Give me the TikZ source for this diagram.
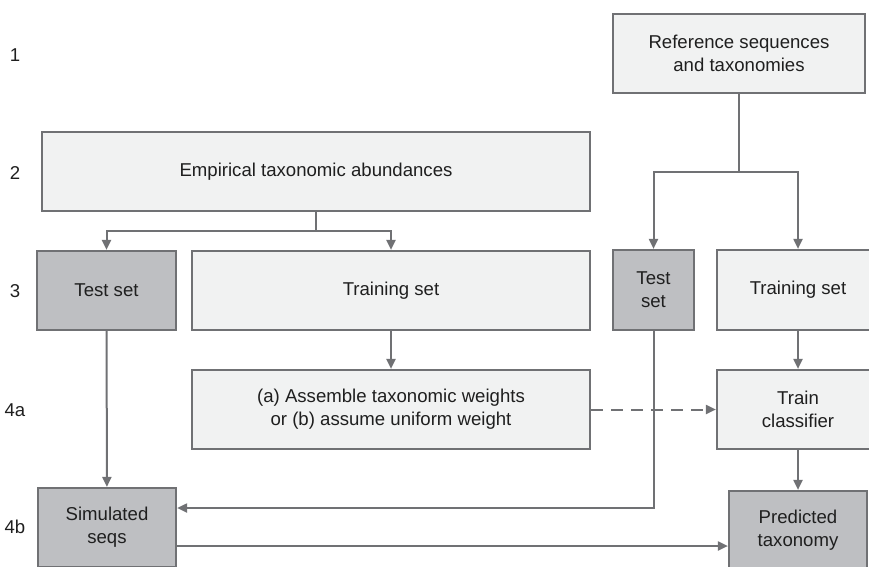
\documentclass[tikz,border=0pt]{standalone}
\usepackage{fontspec}
\setmainfont{Liberation Sans}
\usetikzlibrary{arrows.meta,calc}
\definecolor{edgegray}{RGB}{112,113,116}
\definecolor{lightfill}{RGB}{241,242,242}
\definecolor{darkfill}{RGB}{190,191,194}
\begin{document}
\begin{tikzpicture}[x=1pt,y=-1pt,
  every node/.style={font=\fontsize{18.6}{23}\selectfont, text=black!88},
  box/.style={draw=edgegray, line width=2.2pt, align=center, inner sep=0pt},
  lightbox/.style={box, fill=lightfill},
  darkbox/.style={box, fill=darkfill},
  conn/.style={draw=edgegray, line width=2pt},
  arr/.style={conn, -{Triangle[length=10pt,width=9pt]}},
  dashline/.style={dash pattern=on 12pt off 8pt}
]
\useasboundingbox (0,0) rectangle (869,566);
\clip (0,0) rectangle (869,566);

% row labels
\node (l1) at (15,55) {1};
\node (l2) at (15,173) {2};
\node (l3) at (15,291) {3};
\node (l4a) at (15,410) {4a};
\node (l4b) at (15,527) {4b};

% boxes
\node[lightbox, minimum width=252pt, minimum height=79pt] (ref) at (739,53.5) {Reference sequences\\and taxonomies};
\node[lightbox, minimum width=548pt, minimum height=79pt] (emp) at (316,171.5) {Empirical taxonomic abundances};
\node[darkbox, minimum width=139pt, minimum height=79pt] (testL) at (106.5,290.5) {Test set};
\node[lightbox, minimum width=398pt, minimum height=79pt] (trainL) at (391,290.5) {Training set};
\node[darkbox, minimum width=81pt, minimum height=80pt] (testR) at (653.5,290) {Test\\set};
\node[lightbox, minimum width=162pt, minimum height=80pt] (trainR) at (798,290) {Training set};
\node[lightbox, minimum width=398pt, minimum height=79pt] (assem) at (391,409.5) {(a) Assemble taxonomic weights\\or (b) assume uniform weight};
\node[lightbox, minimum width=162pt, minimum height=79pt] (trainc) at (798,409.5) {Train\\classifier};
\node[darkbox, minimum width=138pt, minimum height=79pt] (sim) at (107,527.5) {Simulated\\seqs};
\node[darkbox, minimum width=138pt, minimum height=79pt] (pred) at (798,530.5) {Predicted\\taxonomy};

% connectors
\coordinate (rj) at (739,172);
\coordinate (ej) at (316,231);
\draw[conn] (ref.south) -- (rj);
\draw[arr] (rj) -| (testR.north);
\draw[arr] (rj) -| (trainR.north);
\draw[conn] (emp.south) -- (ej);
\draw[arr] (ej) -| (testL.north);
\draw[arr] (ej) -| (trainL.north);

\draw[arr] (trainL) -- (assem);
\draw[arr] (trainR) -- (trainc);
\draw[arr] (trainc) -- (pred);
\draw[arr] (testL) -- (sim);
\draw[arr, dashline] (assem.east) -- (trainc.west);

\coordinate (s1) at ($(sim.east)+(0,-19.5)$);
\draw[arr] (testR.south) |- (s1);
\coordinate (s2) at ($(sim.east)+(0,18.5)$);
\draw[arr] (s2) -- (s2 -| pred.west);
\end{tikzpicture}
\end{document}
